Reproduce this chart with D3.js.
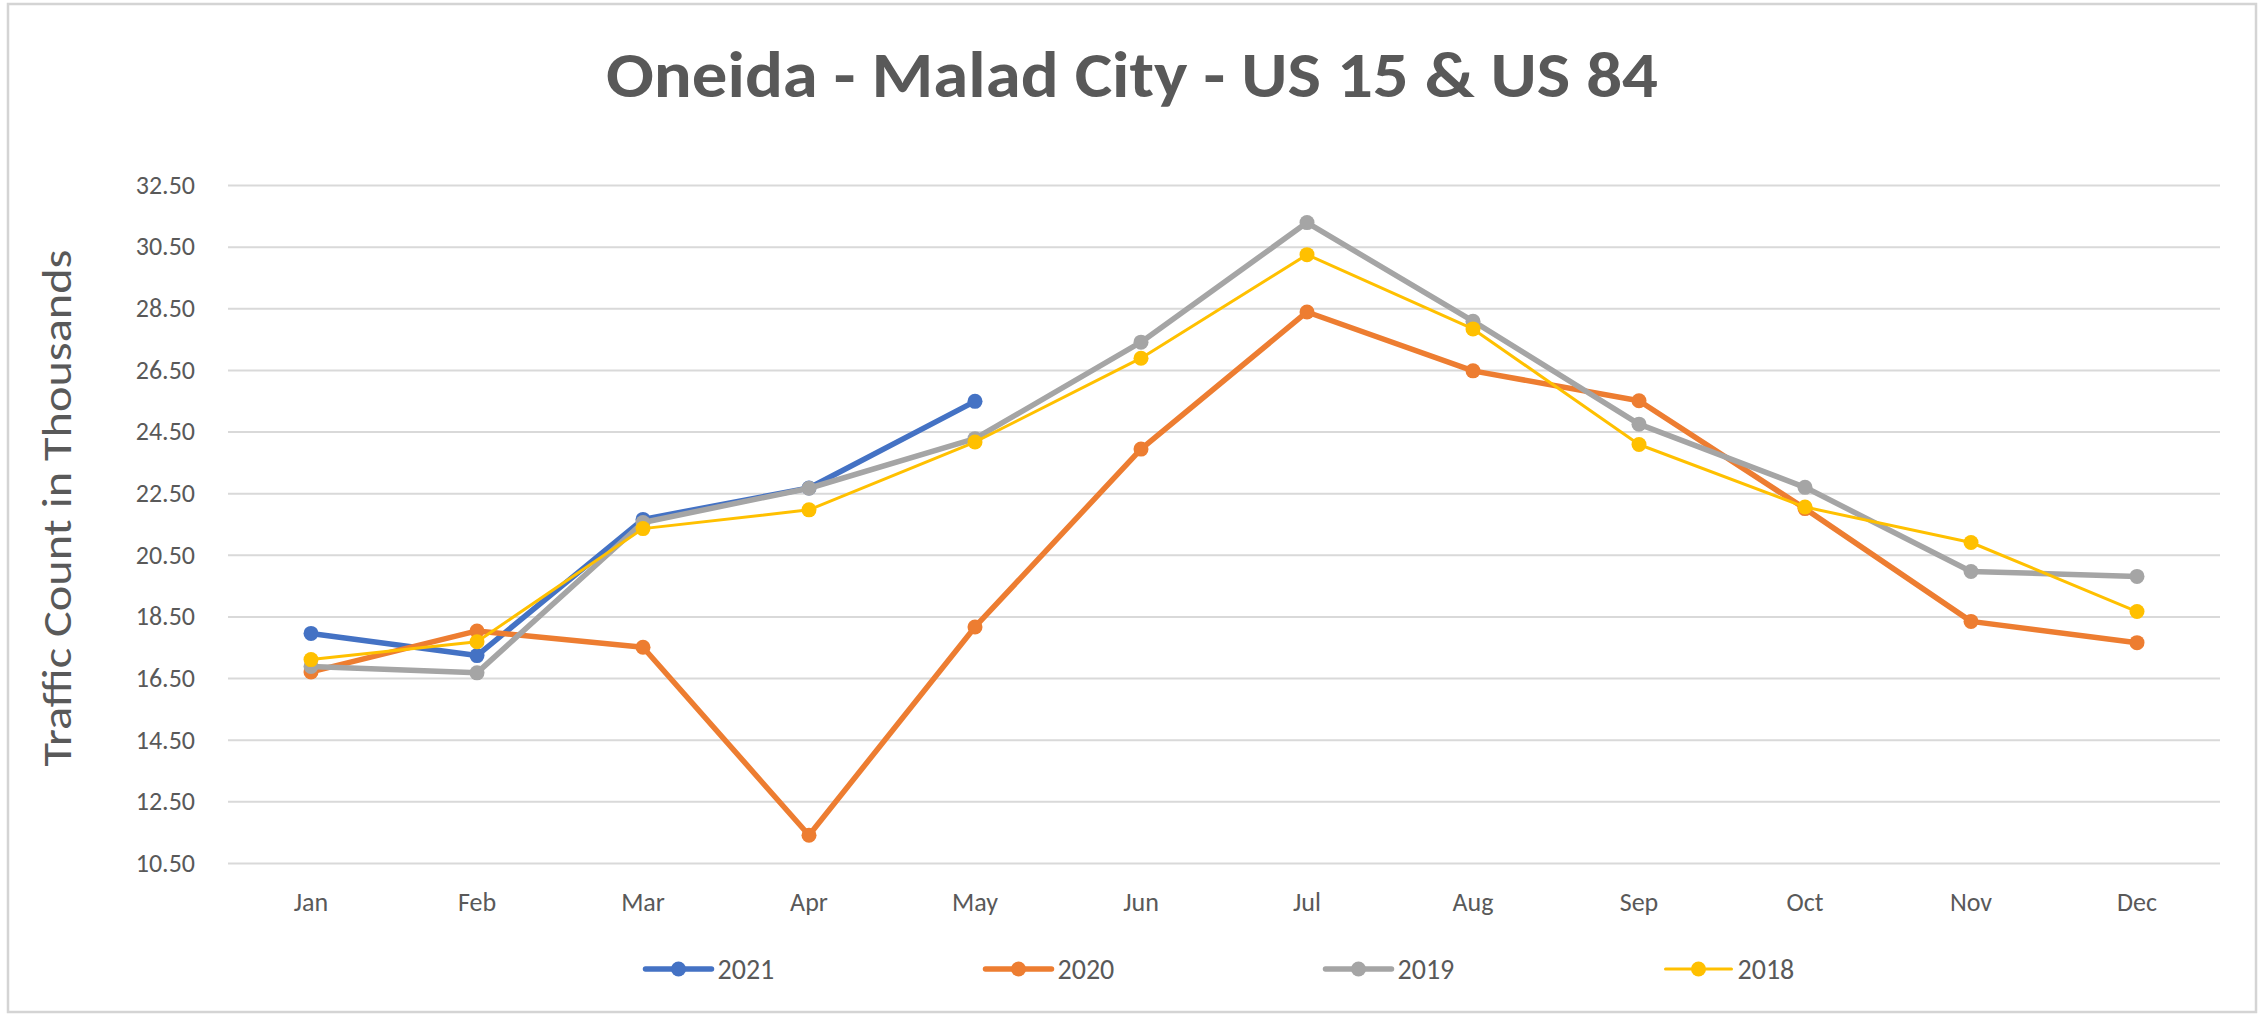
<!DOCTYPE html>
<html>
<head>
<meta charset="utf-8">
<script src="https://cdn.jsdelivr.net/npm/d3@7"></script>
<style>
  body { margin: 0; background: #ffffff; }
  text { font-family: Carlito, Calibri, "Open Sans", sans-serif; fill: #595959; }
</style>
</head>
<body>
<svg id="chart"></svg>
<script>
// chart data (thousands of vehicles)
const months = ["Jan", "Feb", "Mar", "Apr", "May", "Jun", "Jul", "Aug", "Sep", "Oct", "Nov", "Dec"];
const years = ["2021", "2020", "2019", "2018"];
const values2021 = [17.95, 17.23, 21.65, 22.67, 25.48];
const values2020 = [16.70, 18.03, 17.50, 11.40, 18.16, 23.93, 28.38, 26.47, 25.50, 22.00, 18.34, 17.65];
const values2019 = [16.88, 16.67, 21.55, 22.66, 24.27, 27.40, 31.28, 28.08, 24.74, 22.69, 19.96, 19.80];
const values2018 = [17.10, 17.68, 21.35, 21.96, 24.16, 26.88, 30.24, 27.83, 24.08, 22.05, 20.90, 18.66];
const yTicks = [10.5, 12.5, 14.5, 16.5, 18.5, 20.5, 22.5, 24.5, 26.5, 28.5, 30.5, 32.5];

const chartTitle = "Oneida - Malad City - US 15 & US 84";
const yTitle = "Traffic Count in Thousands";

const width = 2260, height = 1015;
const plot = { left: 228, right: 2220, top: 185, bottom: 863 };

// colours follow the office palette
const colors = { "2021": "#4472c4", "2020": "#ed7d31", "2019": "#a5a5a5", "2018": "#ffc000" };
const strokes = { "2021": 5.5, "2020": 5.5, "2019": 5.5, "2018": 3 };

const series = [
  { year: "2021", values: values2021 },
  { year: "2020", values: values2020 },
  { year: "2019", values: values2019 },
  { year: "2018", values: values2018 }
];

const svg = d3.select("#chart")
  .attr("width", width)
  .attr("height", height);

// outer chart border
svg.append("rect")
  .attr("x", 8)
  .attr("y", 4)
  .attr("width", 2248)
  .attr("height", 1008)
  .attr("fill", "#ffffff")
  .attr("stroke", "#d4d4d4")
  .attr("stroke-width", 2.5);

// scales
const xScale = d3.scaleBand()
  .domain(months)
  .range([plot.left, plot.right]);

const yScale = d3.scaleLinear()
  .domain([10.5, 32.5])
  .range([plot.bottom, plot.top]);

const xMid = d => xScale(d) + xScale.bandwidth() / 2;

// horizontal gridlines
svg.append("g")
  .attr("class", "grid")
  .attr("transform", `translate(${plot.left},0)`)
  .call(d3.axisLeft(yScale).tickValues(yTicks).tickSize(-(plot.right - plot.left)).tickFormat(""))
  .call(g => g.select(".domain").remove())
  .call(g => g.selectAll("line").attr("stroke", "#d9d9d9").attr("stroke-width", 2));

// y axis labels
svg.append("g")
  .attr("class", "y-axis")
  .attr("transform", `translate(${plot.left},0)`)
  .call(d3.axisLeft(yScale).tickValues(yTicks).tickSize(0).tickPadding(33).tickFormat(d3.format(".2f")))
  .call(g => g.select(".domain").remove())
  .call(g => g.selectAll("text")
    .attr("font-size", 26)
    .attr("fill", "#595959"));

// x axis labels
svg.append("g")
  .attr("class", "x-axis")
  .attr("transform", `translate(0,${plot.bottom})`)
  .call(d3.axisBottom(xScale).tickSize(0).tickPadding(30))
  .call(g => g.select(".domain").remove())
  .call(g => g.selectAll("text")
    .attr("font-size", 26)
    .attr("fill", "#595959"));
svg.selectAll(".x-axis, .y-axis").attr("font-family", null);

// lines and markers, 2021 at the bottom, 2018 on top
const line = d3.line()
  .x((d, i) => xMid(months[i]))
  .y(d => yScale(d));

const groups = svg.selectAll(".series")
  .data(series)
  .enter()
  .append("g")
  .attr("class", "series");

groups.append("path")
  .attr("d", d => line(d.values))
  .attr("fill", "none")
  .attr("stroke", d => colors[d.year])
  .attr("stroke-width", d => strokes[d.year])
  .attr("stroke-linejoin", "round")
  .attr("stroke-linecap", "round");

groups.selectAll("circle")
  .data(d => d.values.map((v, i) => ({ v: v, month: months[i], year: d.year })))
  .enter()
  .append("circle")
  .attr("cx", d => xMid(d.month))
  .attr("cy", d => yScale(d.v))
  .attr("r", 7.5)
  .attr("fill", d => colors[d.year]);

// chart title
svg.append("text")
  .attr("x", 1132)
  .attr("y", 97)
  .attr("text-anchor", "middle")
  .attr("font-size", 64)
  .attr("font-weight", "bold")
  .attr("textLength", 1052)
  .attr("lengthAdjust", "spacingAndGlyphs")
  .text(chartTitle);

// y axis title
svg.append("text")
  .attr("transform", "translate(71,508) rotate(-90)")
  .attr("text-anchor", "middle")
  .attr("font-size", 40)
  .attr("textLength", 517)
  .attr("lengthAdjust", "spacingAndGlyphs")
  .text(yTitle);

// legend, centred under the plot
const legendStep = 340;
const legendWidth = legendStep * (years.length - 1) + 137;
const legendX = (plot.left + plot.right) / 2 - legendWidth / 2;
const legendY = 969;

const legend = svg.append("g")
  .attr("class", "legend")
  .attr("transform", `translate(${legendX},${legendY})`);

const items = legend.selectAll(".item")
  .data(years)
  .enter()
  .append("g")
  .attr("class", "item")
  .attr("transform", (d, i) => `translate(${i * legendStep},0)`);

items.append("line")
  .attr("x1", 0)
  .attr("x2", 66)
  .attr("y1", 0)
  .attr("y2", 0)
  .attr("stroke", d => colors[d])
  .attr("stroke-width", d => strokes[d])
  .attr("stroke-linecap", "round");

items.append("circle")
  .attr("cx", 33)
  .attr("cy", 0)
  .attr("r", 7.5)
  .attr("fill", d => colors[d]);

items.append("text")
  .attr("x", 72)
  .attr("y", 10)
  .attr("font-size", 28)
  .text(d => d);
</script>
</body>
</html>
